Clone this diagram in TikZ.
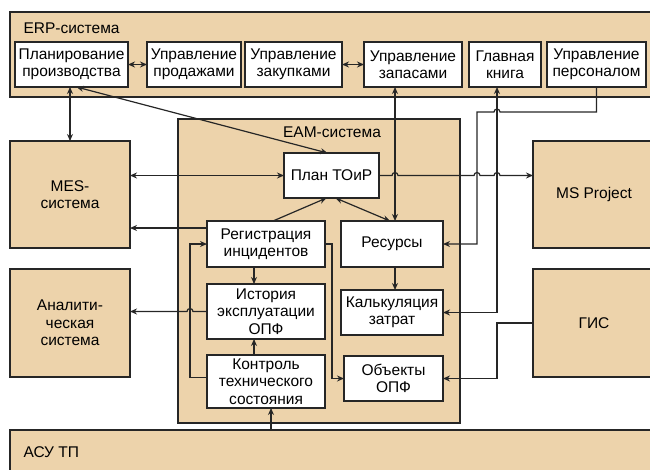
\documentclass[tikz,border=0pt]{standalone}
\usepackage{fontspec}
\setmainfont{Liberation Sans}
\usetikzlibrary{arrows.meta,calc}
\definecolor{sand}{HTML}{EDD3AB}
\definecolor{ink}{HTML}{262626}
\begin{document}
\begin{tikzpicture}[x=1pt,y=-1pt,
  >={Stealth[length=7pt,width=6pt]},
  sys/.style={draw=ink,line width=1.4pt,fill=sand,anchor=north west,inner sep=0pt,outer sep=0pt,align=center},
  mod/.style={draw=ink,line width=1.4pt,fill=white,anchor=north west,inner sep=0pt,outer sep=0pt,align=center,minimum height=45pt},
  link/.style={draw=ink,line width=1.2pt},
  font=\fontsize{15.5}{17.5}\selectfont]
\useasboundingbox (0,0) rectangle (650,469);

% ERP (top layer)
\node[sys,minimum width=645pt,minimum height=85pt] (erp) at (10,12) {};
\node[anchor=west] (erplbl) at (20,28) {ERP-система};
\node[mod,minimum width=113pt] (planning) at (15,42) {Планирование\\производства};
\node[mod,minimum width=94pt] (sales) at (147,42) {Управление\\продажами};
\node[mod,minimum width=97pt] (purch) at (245,42) {Управление\\закупками};
\node[mod,minimum width=98pt] (stock) at (364,42) {Управление\\запасами};
\node[mod,minimum width=72pt] (book) at (469,42) {Главная\\книга};
\node[mod,minimum width=99pt] (staff) at (547,42) {Управление\\персоналом};

% Side systems
\node[sys,minimum width=120pt,minimum height=107pt,anchor=north west] (mes) at (10,141) {MES-\\система};
\node[sys,minimum width=120pt,minimum height=108pt] (analyt) at (10,269) {Аналити-\\ческая\\система};
\node[sys,minimum width=122pt,minimum height=107pt] (msp) at (533,141) {MS Project};
\node[sys,minimum width=122pt,minimum height=108pt] (gis) at (533,269) {ГИС};

% EAM (center)
\node[sys,minimum width=282pt,minimum height=304pt] (eam) at (178,119) {};
\node (eamlbl) at (332,132) {EAM-система};
\node[mod,minimum width=95pt] (toir) at (284,153) {План ТОиР};
\node[mod,minimum width=118pt,minimum height=46pt] (reg) at (207,221) {Регистрация\\инцидентов};
\node[mod,minimum width=102pt,minimum height=46pt] (res) at (341,221) {Ресурсы};
\node[mod,minimum width=118pt,minimum height=55pt] (hist) at (207,284) {История\\эксплуатации\\ОПФ};
\node[mod,minimum width=102pt] (calc) at (341,290) {Калькуляция\\затрат};
\node[mod,minimum width=118pt,minimum height=53pt] (ctrl) at (207,355) {Контроль\\технического\\состояния};
\node[mod,minimum width=99pt] (obj) at (344,356) {Объекты\\ОПФ};

% ASU TP (bottom)
\node[sys,minimum width=645pt,minimum height=50pt] (asu) at (10,430) {};
\node[anchor=west] (asulbl) at (20,452) {АСУ ТП};

% Bus points
\coordinate (resin) at ([xshift=3pt]res.north);
\coordinate (hrbus) at (477,112);
\coordinate (glbus) at ([xshift=-8pt]book.south);
\coordinate (loopx) at ([xshift=-17pt]reg.west);
\coordinate (ctrlin) at ([xshift=5pt]ctrl.south);

% ERP links
\draw[link,<->] (planning.east) -- (sales.west);
\draw[link,<->] (purch.east) -- (stock.west);
\draw[link,<->] (planning.south -| mes.north) -- (mes.north);
\draw[link,<->] ([xshift=5pt]planning.south) -- ([xshift=-4pt]toir.north);
\draw[link,<->] (stock.south -| resin) -- (resin);
\draw[link,->] (staff.south) |- ($(hrbus -| glbus)+(3,0)$) arc[start angle=0,end angle=180,radius=3pt] -- (hrbus) |- (res.east);
\draw[link,<->] (glbus) |- (calc.east);

% Plan TOiR links
\draw[link,<->] (toir.west -| mes.east) -- (toir.west);
\draw[link,->] (toir.east) -- ($(toir.east -| resin)-(3,0)$) arc[start angle=180,end angle=0,radius=3pt]
  -- ($(toir.east -| hrbus)-(3,0)$) arc[start angle=180,end angle=0,radius=3pt]
  -- ($(toir.east -| glbus)-(3,0)$) arc[start angle=180,end angle=0,radius=3pt]
  -- (toir.east -| msp.west);
\draw[link,->] ([xshift=7pt]reg.north) -- ([xshift=-5pt]toir.south);
\draw[link,<->] ([xshift=4pt]toir.south) -- ([xshift=-2pt]res.north);

% Inner links
\draw[link,->] ([yshift=-7pt]reg.north west) -- ([yshift=-7pt]reg.north west -| mes.east);
\draw[link,->] ([xshift=-12pt]reg.south) -- ([xshift=-12pt]hist.north);
\draw[link,->] ([xshift=-12pt]ctrl.north) -- ([xshift=-12pt]hist.south);
\draw[link,->] (res.south -| resin) -- (calc.north -| resin);
\draw[link,->] ([yshift=4pt]ctrl.west) -| (loopx) -- (reg.west);
\draw[link,->] (reg.east) -- ++(7,0) |- (obj.west);
\draw[link,->] (hist.west) -- ($(hist.west -| loopx)+(3,0)$) arc[start angle=0,end angle=180,radius=3pt] -- (hist.west -| analyt.east);
\draw[link,->] (gis.west) -- (gis.west -| glbus) |- (obj.east);
\draw[link,->] (asu.north -| ctrlin) -- (ctrlin);

\end{tikzpicture}
\end{document}
